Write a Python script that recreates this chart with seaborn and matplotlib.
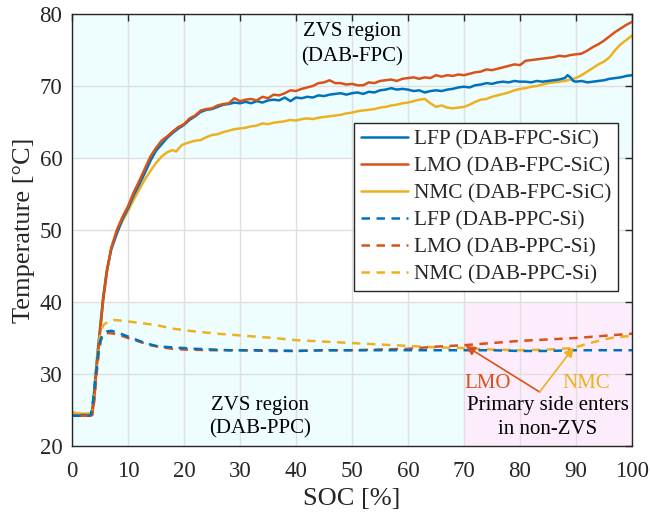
import matplotlib
matplotlib.use("Agg")
import matplotlib.pyplot as plt
import seaborn as sns
import pandas as pd

# ---------------- data ----------------
soc_lfp_fpc = [0, 1, 2, 3, 3.5, 3.8, 4.2, 4.6, 5.0, 5.5, 6.2, 7, 8, 9, 10, 11, 12, 13, 14, 15, 16, 17, 18, 19, 20,
               21, 22, 23, 24, 25, 26, 27, 28, 29, 30, 31, 32, 33, 34, 35, 36, 37, 38, 39, 40, 41, 42, 43, 44, 45,
               46, 47, 48, 49, 50, 51, 52, 53, 54, 55, 56, 57, 58, 59, 60, 61, 62, 63, 64, 65, 66, 67, 68, 69, 70,
               71, 72, 73, 74, 75, 76, 77, 78, 79, 80, 81, 82, 83, 84, 85, 86, 87, 88, 88.5, 89, 89.5, 90, 91, 92,
               93, 94, 95, 96, 97, 98, 99, 100]
t_lfp_fpc = [24.3, 24.3, 24.3, 24.3, 24.4, 26.0, 29.5, 33.0, 36.0, 40.0, 44.2, 47.3, 49.5, 51.5, 53.0, 54.8, 56.3,
             57.9, 59.6, 61.0, 61.9, 62.8, 63.5, 64.1, 64.6, 65.3, 65.8, 66.4, 66.7, 66.8, 67.1, 67.4, 67.5, 67.7,
             67.6, 67.8, 67.6, 67.9, 67.7, 68.0, 68.1, 68.0, 68.4, 67.9, 68.4, 68.3, 68.5, 68.4, 68.7, 68.6, 68.8,
             68.9, 69.0, 68.8, 69.0, 69.1, 68.9, 69.2, 69.1, 69.4, 69.5, 69.7, 69.5, 69.6, 69.5, 69.3, 69.4, 69.1,
             69.3, 69.4, 69.3, 69.5, 69.6, 69.8, 69.9, 69.8, 70.1, 70.2, 70.4, 70.3, 70.5, 70.6, 70.5, 70.7, 70.6,
             70.6, 70.5, 70.7, 70.6, 70.7, 70.8, 70.9, 71.1, 71.5, 71.2, 70.7, 70.6, 70.7, 70.5, 70.6, 70.7, 70.8,
             71.0, 71.1, 71.2, 71.4, 71.5]

soc_lmo_fpc = [0, 1, 2, 3, 3.6, 3.9, 4.3, 4.7, 5.1, 5.6, 6.3, 7, 8, 9, 10, 11, 12, 13, 14, 15, 16, 17, 18, 19, 20,
               21, 22, 23, 24, 25, 26, 27, 28, 29, 30, 31, 32, 33, 34, 35, 36, 37, 38, 39, 40, 41, 42, 43, 44, 45,
               46, 47, 48, 49, 50, 51, 52, 53, 54, 55, 56, 57, 58, 59, 60, 61, 62, 63, 64, 65, 66, 67, 68, 69, 70,
               71, 72, 73, 74, 75, 76, 77, 78, 79, 80, 81, 82, 83, 84, 85, 86, 87, 88, 89, 90, 91, 92, 93, 94, 95,
               96, 97, 98, 99, 100]
t_lmo_fpc = [24.2, 24.2, 24.2, 24.2, 24.3, 26.0, 29.8, 33.5, 36.5, 40.5, 44.5, 47.5, 50.0, 51.8, 53.3, 55.2, 56.8,
             58.5, 60.2, 61.4, 62.4, 63.0, 63.7, 64.3, 64.7, 65.5, 65.9, 66.6, 66.8, 66.9, 67.3, 67.5, 67.6, 68.3,
             67.9, 68.1, 68.2, 68.0, 68.5, 68.3, 68.8, 68.7, 69.0, 69.4, 69.3, 69.6, 69.8, 70.0, 70.4, 70.5, 70.8,
             70.4, 70.4, 70.2, 70.3, 70.1, 70.1, 70.5, 70.4, 70.7, 70.8, 70.9, 70.7, 71.0, 71.1, 71.2, 71.0, 71.2,
             71.1, 71.5, 71.3, 71.5, 71.4, 71.6, 71.5, 71.7, 71.9, 72.0, 72.3, 72.2, 72.4, 72.6, 72.8, 73.0, 72.9,
             73.5, 73.6, 73.7, 73.8, 73.9, 74.0, 74.2, 74.1, 74.3, 74.4, 74.5, 74.9, 75.4, 75.8, 76.3, 76.9, 77.5,
             78.0, 78.5, 78.9]

soc_nmc_fpc = [0, 1, 2, 3, 3.5, 3.8, 4.2, 4.6, 5.0, 5.5, 6.2, 7, 8, 9, 10, 11, 12, 13, 14, 15, 16, 17, 18, 18.6,
               19.6, 21, 22, 23, 24, 25, 26, 27, 28, 29, 30, 31, 32, 33, 34, 35, 36, 37, 38, 39, 40, 41, 42, 43, 44,
               45, 46, 47, 48, 49, 50, 51, 52, 53, 54, 55, 56, 57, 58, 59, 60, 61, 62, 63, 64, 65, 66, 67, 68, 69,
               70, 71, 72, 73, 74, 75, 76, 77, 78, 79, 80, 81, 82, 83, 84, 85, 86, 87, 88, 89, 90, 91, 92, 93, 94,
               95, 96, 97, 98, 99, 100]
t_nmc_fpc = [24.7, 24.5, 24.5, 24.5, 24.5, 26.3, 30.0, 33.5, 36.5, 40.5, 44.5, 47.3, 49.6, 51.2, 52.6, 54.2, 55.6,
             57.0, 58.2, 59.3, 60.2, 60.8, 61.1, 60.9, 61.8, 62.2, 62.4, 62.5, 62.9, 63.2, 63.3, 63.6, 63.8, 64.0,
             64.1, 64.2, 64.4, 64.5, 64.8, 64.7, 64.9, 65.0, 65.1, 65.3, 65.2, 65.4, 65.5, 65.4, 65.6, 65.7, 65.8,
             65.9, 66.0, 66.2, 66.3, 66.5, 66.6, 66.7, 66.8, 67.0, 67.1, 67.3, 67.4, 67.6, 67.7, 67.9, 68.1, 68.2,
             67.6, 67.1, 67.3, 67.0, 66.9, 67.0, 67.1, 67.4, 67.8, 68.1, 68.2, 68.5, 68.7, 68.9, 69.1, 69.4, 69.6,
             69.7, 69.9, 70.0, 70.2, 70.4, 70.5, 70.6, 70.7, 70.9, 71.1, 71.5, 72.0, 72.5, 73.0, 73.4, 74.0, 75.0,
             75.8, 76.4, 77.0]

soc_lfp_ppc = [0, 1, 2, 3, 3.4, 3.8, 4.2, 4.6, 5.0, 5.5, 6.2, 7, 8, 9, 10, 11, 12, 13, 14, 15, 16, 18, 20, 22, 25,
               28, 30, 35, 40, 45, 50, 55, 60, 65, 70, 75, 80, 85, 90, 95, 100]
t_lfp_ppc = [24.2, 24.2, 24.2, 24.2, 24.4, 26.5, 29.5, 32.5, 34.6, 35.5, 35.9, 36.0, 35.8, 35.5, 35.2, 34.9, 34.6,
             34.3, 34.1, 33.9, 33.8, 33.7, 33.6, 33.5, 33.4, 33.3, 33.3, 33.3, 33.2, 33.3, 33.3, 33.3, 33.3, 33.3,
             33.3, 33.3, 33.2, 33.2, 33.3, 33.3, 33.3]

soc_lmo_ppc = [0, 3, 3.6, 4.0, 4.4, 4.8, 5.2, 5.8, 6.5, 7.5, 8.5, 10, 12, 14, 16, 18, 20, 25, 30, 35, 40, 45, 50,
               55, 60, 65, 70, 75, 80, 85, 90, 95, 100]
t_lmo_ppc = [24.2, 24.2, 24.3, 26.5, 30.0, 33.0, 34.8, 35.5, 35.7, 35.6, 35.4, 35.0, 34.5, 34.0, 33.7, 33.5, 33.4,
             33.3, 33.3, 33.2, 33.2, 33.3, 33.3, 33.4, 33.5, 33.8, 34.0, 34.3, 34.6, 34.8, 35.0, 35.3, 35.6]

soc_nmc_ppc = [0, 1, 3, 3.5, 3.9, 4.3, 4.7, 5.1, 5.6, 6.5, 7.5, 9, 10, 12, 15, 18, 22, 26, 31, 36, 40, 45, 50, 55,
               60, 65, 70, 75, 80, 85, 89.5, 92, 95, 97, 100]
t_nmc_ppc = [24.7, 24.5, 24.5, 24.6, 27.0, 30.5, 33.8, 35.8, 36.8, 37.3, 37.5, 37.4, 37.3, 37.1, 36.8, 36.3, 35.9,
             35.6, 35.3, 35.0, 34.7, 34.5, 34.3, 34.1, 33.9, 33.7, 33.6, 33.4, 33.3, 33.4, 33.6, 34.2, 34.8, 35.1,
             35.3]

series_labels = ["LFP (DAB-FPC-SiC)", "LMO (DAB-FPC-SiC)", "NMC (DAB-FPC-SiC)",
                 "LFP (DAB-PPC-Si)", "LMO (DAB-PPC-Si)", "NMC (DAB-PPC-Si)"]

x_ticks = [0, 10, 20, 30, 40, 50, 60, 70, 80, 90, 100]
y_ticks = [20, 30, 40, 50, 60, 70, 80]

# ---------------- style ----------------
sns.set_style("white")
plt.rcParams["font.family"] = ["Liberation Serif", "DejaVu Serif"]

C_BLUE = "#0072BD"
C_RED = "#D95319"
C_YEL = "#EDB120"
DARK = "#262626"

fig = plt.figure(figsize=(6.5, 5.15), dpi=100)
ax = fig.add_axes([72 / 650, 1 - 446 / 515, 560 / 650, 432 / 515])

# shaded regions
ax.axhspan(60, 80, xmin=0, xmax=1, color="#EEFEFE", zorder=0, lw=0)
ax.axhspan(20, 40, xmin=0, xmax=0.7, color="#EEFEFE", zorder=0, lw=0)
ax.axhspan(20, 40, xmin=0.7, xmax=1, color="#FDEDFC", zorder=0, lw=0)

DASH = (0, (3.4, 2.6))
series = [
    (soc_lfp_fpc, t_lfp_fpc, C_BLUE, "-"),
    (soc_lmo_fpc, t_lmo_fpc, C_RED, "-"),
    (soc_nmc_fpc, t_nmc_fpc, C_YEL, "-"),
    (soc_lfp_ppc, t_lfp_ppc, C_BLUE, DASH),
    (soc_lmo_ppc, t_lmo_ppc, C_RED, DASH),
    (soc_nmc_ppc, t_nmc_ppc, C_YEL, DASH),
]
order = [2, 0, 1, 5, 4, 3]
for i in order:
    xs, ys, c, ls = series[i]
    df = pd.DataFrame({"SOC": xs, "T": ys})
    sns.lineplot(data=df, x="SOC", y="T", ax=ax, color=c, linestyle=ls, lw=1.8,
                 estimator=None, sort=False, label=series_labels[i], zorder=3)

hs, ls_ = ax.get_legend_handles_labels()
lab2h = dict(zip(ls_, hs))
leg = ax.legend([lab2h[l] for l in series_labels], series_labels,
                loc="upper right", bbox_to_anchor=(0.975, 0.748), borderaxespad=0,
                fontsize=15.4, frameon=True, fancybox=False, edgecolor=DARK,
                handlelength=2.2, handletextpad=0.3, labelspacing=0.33,
                borderpad=0.3, framealpha=1)
leg.get_frame().set_linewidth(1.0)

ax.set_xlim(0, 100)
ax.set_ylim(20, 80)
ax.set_xticks(x_ticks)
ax.set_yticks(y_ticks)
ax.grid(True, color="#DFDFDF", lw=1.0, zorder=1)
ax.set_axisbelow(False)
for gl in ax.get_xgridlines() + ax.get_ygridlines():
    gl.set_zorder(1)

ax.tick_params(direction="in", length=5, width=1, top=True, right=True, colors=DARK,
               labelsize=16.5, labelcolor=DARK)
ax.tick_params(axis="x", pad=11)
ax.tick_params(axis="y", pad=7)
for sp in ax.spines.values():
    sp.set_color(DARK)
    sp.set_linewidth(1.0)
    sp.set_zorder(5)

ax.set_xlabel("SOC [%]", fontsize=19, color=DARK, labelpad=4)
ax.set_ylabel("Temperature [°C]", fontsize=19, color=DARK, labelpad=3)

# text annotations
ax.text(50, 75.8, "ZVS region\n(DAB-FPC)", ha="center", va="center", fontsize=15,
        color="black", linespacing=1.45, zorder=6)
ax.text(33.6, 24.0, "ZVS region\n(DAB-PPC)", ha="center", va="center", fontsize=15,
        color="black", linespacing=1.35, zorder=6)
ax.text(85, 24.0, "Primary side enters\nin non-ZVS", ha="center", va="center", fontsize=15,
        color="black", linespacing=1.35, zorder=6)
ax.text(74.3, 28.7, "LMO", ha="center", va="center", fontsize=15, color=C_RED, zorder=6)
ax.text(91.8, 28.7, "NMC", ha="center", va="center", fontsize=15, color=C_YEL, zorder=6)

ax.annotate("", xy=(70.3, 33.9), xytext=(83.5, 27.5),
            arrowprops=dict(arrowstyle="-|>", color=C_RED, lw=1.2, mutation_scale=14,
                            shrinkA=0, shrinkB=0), zorder=6)
ax.annotate("", xy=(89.6, 33.7), xytext=(83.5, 27.5),
            arrowprops=dict(arrowstyle="-|>", color=C_YEL, lw=1.2, mutation_scale=14,
                            shrinkA=0, shrinkB=0), zorder=6)

fig.savefig("out.png", dpi=100)
